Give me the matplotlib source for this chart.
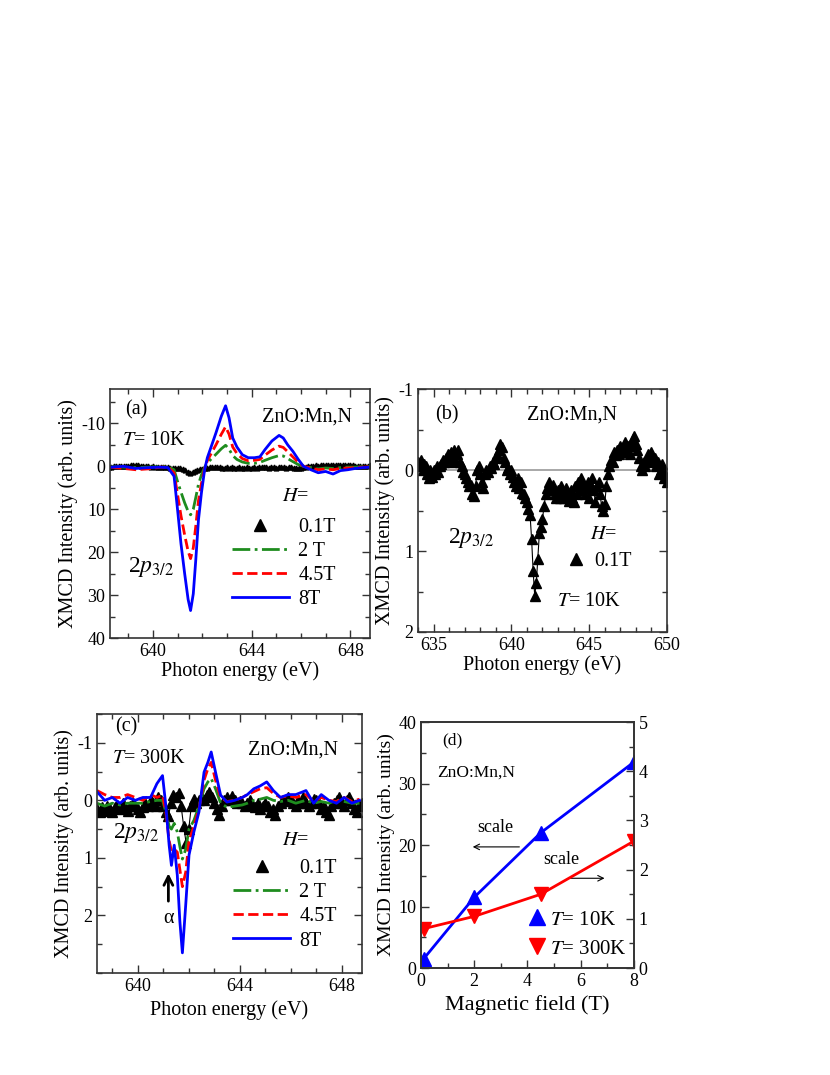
import numpy as np
import matplotlib
matplotlib.use("Agg")
import matplotlib.pyplot as plt
from matplotlib.lines import Line2D
from matplotlib.ticker import MultipleLocator

plt.rcParams["font.family"] = ["Liberation Serif", "DejaVu Serif"]
plt.rcParams["mathtext.fontset"] = "stix"
plt.rcParams["axes.unicode_minus"] = False

# ---- panel (a): T = 10K spectra ----
energy_a = [638.3, 638.8, 639.3, 639.8, 640.3, 640.6, 640.85, 640.99, 641.13, 641.28,
            641.42, 641.52, 641.63, 641.73, 641.84, 641.96, 642.09, 642.2, 642.34, 642.55,
            642.77, 642.94, 643.08, 643.23, 643.4, 643.62, 643.86, 644.11, 644.33, 644.54,
            644.82, 645.11, 645.28, 645.46, 645.67, 645.89, 646.1, 646.4, 646.7, 647.0,
            647.3, 647.6, 647.9, 648.2, 648.5, 648.8]
a_8T = [0.2, 0.0, 0.5, 0.3, 0.2, 0.3, 2.3, 10, 18, 25,
        31, 33.6, 29.7, 21.9, 12.5, 6.2, 0.8, -2, -4.3, -7.8,
        -11.7, -14.1, -11.3, -6.6, -4.5, -2.7, -2, -2, -2.2, -3.9,
        -5.9, -7.2, -6.6, -5, -3.5, -1.6, 0, 0.8, 1.5, 1.2,
        1.8, 1.0, 0.8, 0.5, 0.3, 0.2]
a_45T = [0.2, 0.5, 0.8, 0.6, 0.2, 0.2, 1.5, 6.5, 11.5, 16,
         19.8, 21.5, 19, 14, 8, 4, 0.5, -1.3, -2.8, -5,
         -7.5, -9.2, -7.5, -4.5, -3, -1.8, -1.3, -1.4, -1.6, -2.6,
         -3.8, -4.7, -4.4, -3.4, -2.2, -0.9, 0, 0.4, 0.8, 0.6,
         0.8, 0.5, 0.4, 0.3, 0.2, 0.1]
a_2T = [0.1, 0.2, 0.3, 0.2, 0.1, 0.1, 0.8, 3.5, 6, 8.5,
        10.5, 11.3, 10, 7.3, 4.2, 2, 0.2, -0.8, -1.6, -2.8,
        -4.1, -4.9, -4.0, -2.5, -1.6, -1.0, -0.7, -0.7, -0.9, -1.4,
        -2.0, -2.5, -2.4, -1.8, -1.1, -0.4, 0, 0.3, 0.6, 0.4,
        0.5, 0.3, 0.2, 0.2, 0.1, 0.1]

# ---- panel (b): 0.1T, T = 10K (also drawn in (a)) ----
energy_b = np.linspace(634.0, 650.0, 161)
b_01T = [-0.1, -0.05, -0.12, 0.0, -0.08, -0.05, 0.05, 0.1, 0.0, 0.08,
         0.0, 0.05, -0.05, 0.02, -0.05, -0.08, -0.12, -0.1, -0.15, -0.2,
         -0.18, -0.22, -0.1, -0.25, -0.12, -0.2, -0.25, -0.1, -0.05, 0.02,
         0.05, 0.1, 0.15, 0.2, 0.18, 0.3, 0.32, 0.2, 0.0, -0.05,
         0.05, 0.15, 0.22, 0.05, 0.0, 0.02, -0.05, -0.03, -0.1, -0.08,
         -0.15, -0.2, -0.25, -0.32, -0.28, -0.15, -0.1, 0.0, -0.02, 0.05,
         0.0, 0.08, 0.15, 0.2, 0.1, 0.22, 0.15, 0.28, 0.3, 0.35,
         0.4, 0.48, 0.55, 0.85, 1.25, 1.55, 1.4, 1.1, 0.78, 0.7,
         0.6, 0.45, 0.3, 0.22, 0.15, 0.2, 0.25, 0.18, 0.3, 0.35,
         0.25, 0.35, 0.2, 0.28, 0.35, 0.22, 0.3, 0.38, 0.25, 0.35,
         0.4, 0.2, 0.3, 0.15, 0.25, 0.1, 0.2, 0.3, 0.22, 0.15,
         0.35, 0.2, 0.1, 0.25, 0.4, 0.2, 0.15, 0.3, 0.45, 0.5,
         0.42, 0.2, 0.05, -0.05, -0.12, -0.1, -0.22, -0.18, -0.25, -0.2,
         -0.3, -0.22, -0.28, -0.35, -0.25, -0.3, -0.2, -0.3, -0.38, -0.42,
         -0.32, -0.25, -0.15, -0.05, 0.0, -0.1, -0.05, -0.12, -0.2, -0.15,
         -0.22, -0.1, -0.15, -0.05, -0.1, 0.05, 0.0, -0.08, 0.1, 0.05,
         0.15]

# ---- panel (c): T = 300K spectra ----
energy_c = [638.4, 638.7, 639.0, 639.3, 639.6, 639.9, 640.2, 640.5, 640.75, 640.97,
            641.1, 641.23, 641.32, 641.43, 641.55, 641.65, 641.75, 641.88, 642.01, 642.2,
            642.4, 642.6, 642.75, 642.88, 643.05, 643.25, 643.5, 643.8, 644.1, 644.3,
            644.55, 644.8, 645.06, 645.32, 645.6, 645.9, 646.2, 646.6, 646.9, 647.2,
            647.5, 647.8, 648.1, 648.4, 648.7]
c_8T = [-0.15, 0.0, -0.05, 0.05, -0.05, 0.0, -0.05, -0.05, -0.29, -0.43,
        0.09, 0.78, 1.13, 0.78, 1.3, 2.1, 2.65, 1.82, 0.95, 0.55,
        0.2, -0.49, -0.66, -0.84, -0.49, -0.09, 0.03, 0.0, -0.05, -0.1,
        -0.2, -0.25, -0.32, -0.17, -0.05, -0.1, -0.1, -0.17, 0.05, -0.1,
        0.0, 0.05, -0.05, 0.05, 0.0]
c_45T = [-0.17, -0.1, -0.05, -0.05, -0.1, -0.05, 0.0, -0.1, -0.05, -0.09,
         0.2, 0.7, 0.88, 0.85, 0.9, 1.2, 1.5, 1.25, 0.7, 0.45,
         0.15, -0.35, -0.55, -0.66, -0.35, -0.05, 0.02, 0.0, -0.05, -0.1,
         -0.15, -0.2, -0.22, -0.12, -0.05, -0.08, -0.05, -0.1, 0.02, -0.05,
         0.0, 0.02, -0.05, 0.02, -0.02]
c_2T = [0.05, 0.1, 0.05, 0.08, 0.05, 0.05, 0.05, 0.02, 0.0, 0.0,
        0.2, 0.45, 0.5, 0.4, 0.55, 0.8, 1.02, 0.85, 0.5, 0.35,
        0.1, -0.2, -0.32, -0.38, -0.2, 0.05, 0.12, 0.1, 0.08, 0.05,
        0.0, -0.02, -0.05, 0.0, 0.02, 0.0, 0.05, 0.0, 0.05, 0.02,
        0.05, 0.0, 0.02, 0.05, 0.05]
energy_c01 = np.linspace(638.4, 648.8, 105)
c_01T = [0.15, 0.2, 0.12, 0.18, 0.1, 0.15, 0.2,
         0.12, 0.08, 0.15, 0.05, 0.12, 0.18, 0.1, 0.05, 0.1, 0.15,
         0.2, 0.12, 0.05, 0.1, 0.0, 0.05, 0.1, -0.05, 0.0, 0.1,
         0.2, 0.28, 0.05, -0.1, -0.05, -0.12, 0.1, 0.45, 0.75, 0.5,
         0.1, -0.02, 0.05, 0.0, -0.05, 0.0, -0.1, -0.15, -0.05, 0.05,
         0.15, 0.25, 0.1, 0.0, -0.05, 0.0, -0.08, 0.0, 0.05, 0.02,
         0.05, 0.1, 0.05, 0.0, 0.08, 0.12, 0.05, 0.15, 0.1, 0.05,
         0.1, 0.2, 0.15, 0.25, 0.1, 0.05, 0.0, 0.02, -0.05, 0.0,
         0.05, 0.1, 0.0, 0.05, -0.05, 0.05, 0.1, 0.05, -0.02, 0.0,
         0.05, 0.15, 0.1, 0.2, 0.25, 0.1, 0.05, 0.0, -0.05, 0.05,
         0.1, 0.0, -0.05, 0.05, 0.15, 0.2, 0.1, 0.05]

# ---- panel (d): field dependence ----
field = [0.1, 2, 4.5, 8]
peak_10K = [1.5, 11.5, 22, 33.5]
peak_300K = [0.8, 1.05, 1.5, 2.58]

GREEN = "#1e8c1e"
FS_TICK = 13
FS_LAB = 14.5
FS_TXT = 14.5


def style(ax, top=True, right=True):
    for s in ax.spines.values():
        s.set_color("#333333")
        s.set_linewidth(1.2)
    ax.tick_params(which="both", direction="in", top=top, right=right,
                   color="#333333", labelsize=FS_TICK)
    ax.tick_params(which="major", length=6, width=1)
    ax.tick_params(which="minor", length=3.5, width=1)


def spectra_legend(ax, x, y):
    handles = [Line2D([], [], ls="none", marker="^", ms=8, color="black"),
               Line2D([], [], ls="-.", lw=2, color=GREEN),
               Line2D([], [], ls="--", lw=2, color="red"),
               Line2D([], [], ls="-", lw=2, color="blue")]
    ax.legend(handles, ["0.1T", "2 T", "4.5T", "8T"], loc="upper left",
              bbox_to_anchor=(x, y), frameon=False, fontsize=FS_TXT,
              handlelength=2.85, handletextpad=0.45, labelspacing=0.25,
              borderpad=0, borderaxespad=0)


fig = plt.figure(figsize=(8.3, 10.75), dpi=100)

# (a)
ax = fig.add_axes([0.1325, 0.4065, 0.3133, 0.2316])
ax.plot(energy_b, b_01T, color="black", lw=0.8, marker="^", ms=3.5)
ax.plot(energy_a, a_2T, color=GREEN, lw=2, ls="-.")
ax.plot(energy_a, a_45T, color="red", lw=2, ls="--")
ax.plot(energy_a, a_8T, color="blue", lw=2)
ax.set_xlim(638.25, 648.8)
ax.set_ylim(40, -18)
ax.xaxis.set_major_locator(MultipleLocator(4))
ax.xaxis.set_minor_locator(MultipleLocator(1))
ax.yaxis.set_major_locator(MultipleLocator(10))
ax.yaxis.set_minor_locator(MultipleLocator(5))
style(ax)
ax.set_xlabel("Photon energy (eV)", fontsize=FS_LAB, labelpad=1)
ax.set_ylabel("XMCD Intensity (arb. units)", fontsize=FS_LAB, labelpad=2)
ax.text(0.058, 0.916, "(a)", transform=ax.transAxes, fontsize=FS_TXT, va="center")
ax.text(0.583, 0.889, "ZnO:Mn,N", transform=ax.transAxes, fontsize=FS_TXT, va="center")
ax.text(0.045, 0.795, "$T$= 10K", transform=ax.transAxes, fontsize=FS_TXT, va="center")
ax.text(0.07, 0.286, "2$p_{3/2}$", transform=ax.transAxes, fontsize=17, va="center")
ax.text(0.66, 0.567, "$H$=", transform=ax.transAxes, fontsize=FS_TXT, va="center")
spectra_legend(ax, 0.468, 0.484)

# (b)
ax = fig.add_axes([0.5036, 0.4121, 0.3, 0.226])
ax.axhline(0, color="#999999", lw=1.2)
ax.plot(energy_b, b_01T, color="black", lw=0.8, marker="^", ms=7)
ax.set_xlim(634, 650)
ax.set_ylim(2, -1)
ax.xaxis.set_major_locator(MultipleLocator(5))
ax.xaxis.set_minor_locator(MultipleLocator(1))
ax.yaxis.set_major_locator(MultipleLocator(1))
ax.yaxis.set_minor_locator(MultipleLocator(0.5))
style(ax)
ax.set_xlabel("Photon energy (eV)", fontsize=FS_LAB, labelpad=1)
ax.set_ylabel("XMCD Intensity (arb. units)", fontsize=FS_LAB, labelpad=2)
ax.text(0.068, 0.893, "(b)", transform=ax.transAxes, fontsize=FS_TXT, va="center")
ax.text(0.437, 0.893, "ZnO:Mn,N", transform=ax.transAxes, fontsize=FS_TXT, va="center")
ax.text(0.122, 0.386, "2$p_{3/2}$", transform=ax.transAxes, fontsize=17, va="center")
ax.text(0.69, 0.40, "$H$=", transform=ax.transAxes, fontsize=FS_TXT, va="center")
ax.text(0.557, 0.125, "$T$= 10K", transform=ax.transAxes, fontsize=FS_TXT, va="center")
ax.legend([Line2D([], [], ls="none", marker="^", ms=9, color="black")], ["0.1T"],
          loc="center left", bbox_to_anchor=(0.585, 0.289), frameon=False,
          fontsize=FS_TXT, handlelength=1.2, handletextpad=0.3,
          borderpad=0, borderaxespad=0)

# (c)
ax = fig.add_axes([0.1169, 0.0949, 0.3193, 0.2409])
ax.plot(energy_c01, c_01T, color="black", lw=0.8, marker="^", ms=6.5)
ax.plot(energy_c, c_2T, color=GREEN, lw=2, ls="-.")
ax.plot(energy_c, c_45T, color="red", lw=2, ls="--")
ax.plot(energy_c, c_8T, color="blue", lw=2)
ax.set_xlim(638.4, 648.8)
ax.set_ylim(3, -1.5)
ax.set_yticks([-1, 0, 1, 2])
ax.xaxis.set_major_locator(MultipleLocator(4))
ax.xaxis.set_minor_locator(MultipleLocator(1))
ax.yaxis.set_minor_locator(MultipleLocator(0.5))
style(ax)
ax.set_xlabel("Photon energy (eV)", fontsize=FS_LAB, labelpad=4)
ax.set_ylabel("XMCD Intensity (arb. units)", fontsize=FS_LAB, labelpad=2)
ax.text(0.068, 0.951, "(c)", transform=ax.transAxes, fontsize=FS_TXT, va="center")
ax.text(0.055, 0.829, "$T$= 300K", transform=ax.transAxes, fontsize=FS_TXT, va="center")
ax.text(0.571, 0.861, "ZnO:Mn,N", transform=ax.transAxes, fontsize=FS_TXT, va="center")
ax.text(0.062, 0.539, "2$p_{3/2}$", transform=ax.transAxes, fontsize=17, va="center")
ax.text(0.697, 0.513, "$H$=", transform=ax.transAxes, fontsize=FS_TXT, va="center")
ax.annotate("", xy=(641.2, 1.22), xytext=(641.2, 1.8),
            arrowprops=dict(arrowstyle="->", lw=2, color="black", mutation_scale=16))
ax.text(641.2, 2.05, "α", fontsize=FS_TXT, ha="center", va="center")
spectra_legend(ax, 0.513, 0.44)

# (d)
ax = fig.add_axes([0.5072, 0.0995, 0.2566, 0.2288])
ax2 = ax.twinx()
ax.plot(field, peak_10K, color="blue", lw=2, marker="^", ms=10)
ax2.plot(field, peak_300K, color="red", lw=2, marker="v", ms=10)
ax.set_xlim(0, 8)
ax.set_ylim(0, 40)
ax2.set_ylim(0, 5)
ax.xaxis.set_major_locator(MultipleLocator(2))
ax.xaxis.set_minor_locator(MultipleLocator(1))
ax.yaxis.set_major_locator(MultipleLocator(10))
ax.yaxis.set_minor_locator(MultipleLocator(5))
ax2.yaxis.set_major_locator(MultipleLocator(1))
ax2.yaxis.set_minor_locator(MultipleLocator(0.5))
style(ax, top=False, right=False)
style(ax2, top=False, right=True)
ax2.tick_params(which="both", left=False)
ax.set_xlabel("Magnetic field (T)", fontsize=16, labelpad=4)
ax.set_ylabel("XMCD Intensity (arb. units)", fontsize=14, labelpad=2)
ax.text(0.8, 37, "(d)", fontsize=12.5, va="center")
ax.text(0.6, 31.7, "ZnO:Mn,N", fontsize=12.5, va="center")
ax.text(2.1, 22.9, "scale", fontsize=13, va="center")
ax.annotate("", xy=(1.84, 19.7), xytext=(3.8, 19.7),
            arrowprops=dict(arrowstyle="->", lw=0.8, color="black"))
ax.text(4.6, 17.6, "scale", fontsize=13, va="center")
ax.annotate("", xy=(7.0, 14.6), xytext=(5.5, 14.6),
            arrowprops=dict(arrowstyle="->", lw=0.8, color="black"))
ax2.legend([Line2D([], [], ls="none", marker="^", ms=12, color="blue"),
            Line2D([], [], ls="none", marker="v", ms=12, color="red")],
           ["$T$= 10K", "$T$= 300K"], loc="upper left",
           bbox_to_anchor=(0.5, 0.236), frameon=False, fontsize=15,
           handlelength=0.9, handletextpad=0.2, labelspacing=0.45,
           borderpad=0, borderaxespad=0)

fig.savefig("out.png", dpi=100)
